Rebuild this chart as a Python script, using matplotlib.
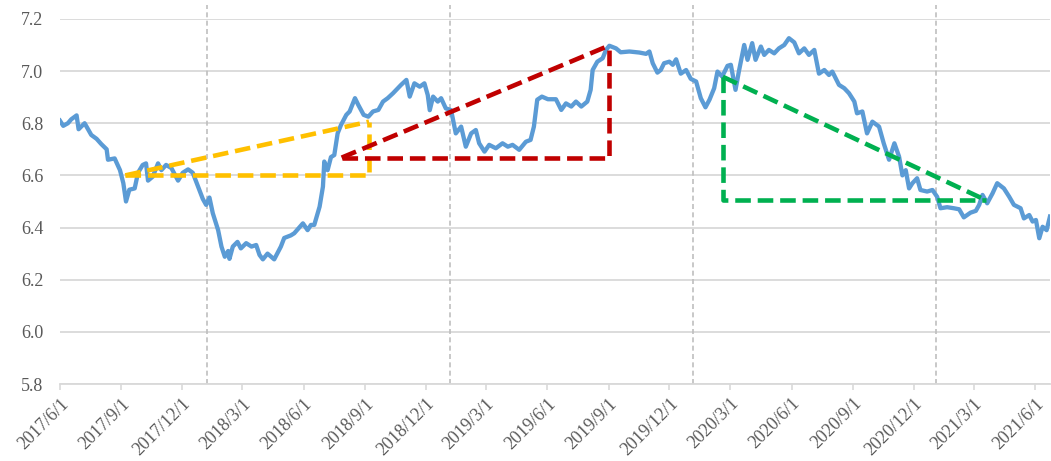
import numpy as np
import pandas as pd
import matplotlib
matplotlib.use("Agg")
import matplotlib.pyplot as plt
import matplotlib.dates as mdates

# USD/CNY
dates = [
    "2017-06-01", "2017-06-06", "2017-06-13", "2017-06-18", "2017-06-26", "2017-06-29",
    "2017-07-08", "2017-07-18", "2017-07-26", "2017-08-02", "2017-08-10", "2017-08-12",
    "2017-08-22", "2017-08-30", "2017-09-04", "2017-09-08", "2017-09-13", "2017-09-21",
    "2017-09-26", "2017-10-03", "2017-10-08", "2017-10-11", "2017-10-18", "2017-10-26",
    "2017-10-31", "2017-11-07", "2017-11-15", "2017-11-25", "2017-12-02", "2017-12-10",
    "2017-12-17", "2017-12-25", "2018-01-01", "2018-01-06", "2018-01-11", "2018-01-16",
    "2018-01-24", "2018-01-29", "2018-02-03", "2018-02-08", "2018-02-10", "2018-02-15",
    "2018-02-22", "2018-02-27", "2018-03-07", "2018-03-15", "2018-03-22", "2018-03-27",
    "2018-04-01", "2018-04-08", "2018-04-18", "2018-04-28", "2018-05-03", "2018-05-13",
    "2018-05-18", "2018-05-31", "2018-06-07", "2018-06-12", "2018-06-17", "2018-06-25",
    "2018-06-30", "2018-07-02", "2018-07-07", "2018-07-12", "2018-07-17", "2018-07-22",
    "2018-07-27", "2018-08-04", "2018-08-09", "2018-08-17", "2018-08-22", "2018-08-30",
    "2018-09-06", "2018-09-13", "2018-09-21", "2018-09-28", "2018-10-05", "2018-10-13",
    "2018-10-20", "2018-10-25", "2018-11-02", "2018-11-07", "2018-11-14", "2018-11-22",
    "2018-11-29", "2018-12-04", "2018-12-07", "2018-12-12", "2018-12-19", "2018-12-24",
    "2018-12-31", "2019-01-08", "2019-01-15", "2019-01-23", "2019-01-30", "2019-02-07",
    "2019-02-14", "2019-02-19", "2019-02-27", "2019-03-06", "2019-03-16", "2019-03-26",
    "2019-04-03", "2019-04-10", "2019-04-20", "2019-04-30", "2019-05-07", "2019-05-12",
    "2019-05-17", "2019-05-24", "2019-06-02", "2019-06-14", "2019-06-22", "2019-06-29",
    "2019-07-07", "2019-07-14", "2019-07-22", "2019-07-31", "2019-08-05", "2019-08-08",
    "2019-08-15", "2019-08-23", "2019-08-28", "2019-09-02", "2019-09-12", "2019-09-19",
    "2019-10-02", "2019-10-17", "2019-10-27", "2019-11-01", "2019-11-06", "2019-11-13",
    "2019-11-18", "2019-11-23", "2019-12-01", "2019-12-06", "2019-12-11", "2019-12-18",
    "2019-12-26", "2020-01-02", "2020-01-10", "2020-01-17", "2020-01-24", "2020-01-30",
    "2020-02-06", "2020-02-11", "2020-02-18", "2020-02-26", "2020-03-02", "2020-03-09",
    "2020-03-14", "2020-03-22", "2020-03-27", "2020-04-03", "2020-04-08", "2020-04-16",
    "2020-04-21", "2020-04-28", "2020-05-06", "2020-05-13", "2020-05-21", "2020-05-28",
    "2020-06-05", "2020-06-12", "2020-06-20", "2020-06-27", "2020-07-05", "2020-07-12",
    "2020-07-20", "2020-07-27", "2020-08-01", "2020-08-11", "2020-08-19", "2020-08-26",
    "2020-09-03", "2020-09-07", "2020-09-15", "2020-09-22", "2020-09-30", "2020-10-10",
    "2020-10-17", "2020-10-25", "2020-11-02", "2020-11-09", "2020-11-14", "2020-11-19",
    "2020-11-24", "2020-11-29", "2020-12-06", "2020-12-11", "2020-12-21", "2020-12-29",
    "2021-01-05", "2021-01-10", "2021-01-20", "2021-01-30", "2021-02-07", "2021-02-14",
    "2021-02-24", "2021-03-04", "2021-03-09", "2021-03-14", "2021-03-21", "2021-03-29",
    "2021-04-05", "2021-04-15", "2021-04-23", "2021-04-30", "2021-05-10", "2021-05-15",
    "2021-05-23", "2021-05-28", "2021-06-02", "2021-06-07", "2021-06-12", "2021-06-18",
    "2021-06-23",
]
rate = [
    6.810, 6.790, 6.800, 6.815, 6.830, 6.777,
    6.800, 6.755, 6.740, 6.720, 6.700, 6.660,
    6.665, 6.620, 6.570, 6.500, 6.545, 6.550,
    6.610, 6.640, 6.646, 6.580, 6.595, 6.646,
    6.620, 6.640, 6.628, 6.580, 6.610, 6.623,
    6.610, 6.557, 6.510, 6.487, 6.515, 6.455,
    6.390, 6.327, 6.288, 6.310, 6.280, 6.327,
    6.345, 6.320, 6.340, 6.327, 6.333, 6.295,
    6.278, 6.300, 6.278, 6.327, 6.360, 6.370,
    6.378, 6.416, 6.390, 6.410, 6.410, 6.480,
    6.557, 6.653, 6.620, 6.670, 6.678, 6.761,
    6.793, 6.832, 6.845, 6.896, 6.870, 6.832,
    6.825, 6.845, 6.851, 6.883, 6.896, 6.915,
    6.934, 6.947, 6.966, 6.902, 6.953, 6.940,
    6.953, 6.908, 6.850, 6.902, 6.883, 6.896,
    6.857, 6.850, 6.761, 6.787, 6.710, 6.761,
    6.774, 6.723, 6.691, 6.717, 6.704, 6.723,
    6.710, 6.717, 6.698, 6.729, 6.736, 6.787,
    6.890, 6.902, 6.892, 6.892, 6.851, 6.876,
    6.864, 6.883, 6.864, 6.883, 6.928, 7.004,
    7.036, 7.049, 7.081, 7.097, 7.087, 7.072,
    7.075, 7.071, 7.066, 7.075, 7.030, 6.994,
    7.004, 7.030, 7.036, 7.024, 7.045, 6.990,
    7.004, 6.970, 6.960, 6.896, 6.861, 6.890,
    6.934, 6.998, 6.979, 7.020, 7.024, 6.928,
    6.998, 7.100, 7.043, 7.107, 7.043, 7.094,
    7.062, 7.081, 7.068, 7.087, 7.100, 7.126,
    7.110, 7.068, 7.087, 7.062, 7.081, 6.990,
    7.004, 6.985, 6.998, 6.947, 6.934, 6.915,
    6.883, 6.838, 6.845, 6.761, 6.806, 6.787,
    6.723, 6.660, 6.723, 6.672, 6.600, 6.620,
    6.550, 6.570, 6.589, 6.544, 6.538, 6.544,
    6.518, 6.474, 6.478, 6.474, 6.470, 6.439,
    6.457, 6.464, 6.487, 6.525, 6.493, 6.531,
    6.570, 6.550, 6.518, 6.487, 6.474, 6.435,
    6.448, 6.423, 6.429, 6.359, 6.403, 6.390,
    6.442,
]

# triangles: (start date, end date) and (low level, high level)
yellow_dates = ["2017-09-07", "2018-09-07"]
yellow_levels = [6.600, 6.806]
red_dates = ["2018-07-28", "2019-09-01"]
red_levels = [6.668, 7.097]
green_dates = ["2020-02-19", "2021-03-19"]
green_levels = [6.505, 6.978]

year_marks = ["2018-01-08", "2019-01-07", "2020-01-05", "2021-01-03"]

tick_dates = ["2017-06-01", "2017-09-01", "2017-12-01", "2018-03-01", "2018-06-01",
              "2018-09-01", "2018-12-01", "2019-03-01", "2019-06-01", "2019-09-01",
              "2019-12-01", "2020-03-01", "2020-06-01", "2020-09-01", "2020-12-01",
              "2021-03-01", "2021-06-01"]
tick_labels = ["2017/6/1", "2017/9/1", "2017/12/1", "2018/3/1", "2018/6/1", "2018/9/1",
               "2018/12/1", "2019/3/1", "2019/6/1", "2019/9/1", "2019/12/1", "2020/3/1",
               "2020/6/1", "2020/9/1", "2020/12/1", "2021/3/1", "2021/6/1"]

plt.rcParams['font.family'] = ['Liberation Serif', 'DejaVu Serif']

fig = plt.figure(figsize=(10.51, 4.61), dpi=100)
ax = fig.add_axes([0.057, 0.167, 0.942, 0.792])

d = pd.to_datetime(dates)
ax.plot(d, rate, color='#5B9BD5', lw=3.1, zorder=3, solid_joinstyle='round')

for m in pd.to_datetime(year_marks):
    ax.axvline(m, ymin=0, ymax=1.038, color='#BFBFBF', lw=1.2,
               dashes=(3, 2), clip_on=False, zorder=2)

dash = dict(lw=3.3, dashes=(3.4, 1.5), dash_capstyle='butt', zorder=4)

# yellow: diagonal rises left to right, vertical at right end
yd = pd.to_datetime(yellow_dates)
ax.plot([yd[0], yd[1], yd[1]], [yellow_levels[0], yellow_levels[0], yellow_levels[1]],
        color='#FFC000', **dash)
ax.plot([yd[0], yd[1]], [yellow_levels[0], yellow_levels[1]], color='#FFC000', **dash)

rd = pd.to_datetime(red_dates)
ax.plot([rd[0], rd[1], rd[1]], [red_levels[0], red_levels[0], red_levels[1]],
        color='#C00000', **dash)
ax.plot([rd[0], rd[1]], [red_levels[0], red_levels[1]], color='#C00000', **dash)

# green: vertical at left end, diagonal falls to the right
gd = pd.to_datetime(green_dates)
ax.plot([gd[0], gd[0], gd[1]], [green_levels[1], green_levels[0], green_levels[0]],
        color='#00B050', **dash)
ax.plot([gd[0], gd[1]], [green_levels[1], green_levels[0]], color='#00B050', **dash)

ax.set_xlim(pd.Timestamp("2017-06-01"), pd.Timestamp("2021-06-23"))
ax.set_ylim(5.8, 7.2)
ax.set_yticks(np.arange(5.8, 7.21, 0.2))
ax.set_yticklabels([f"{v:.1f}" for v in np.arange(5.8, 7.21, 0.2)])
ax.set_xticks(pd.to_datetime(tick_dates))
ax.set_xticklabels(tick_labels, rotation=45, ha='right', rotation_mode='anchor')

ax.grid(axis='y', color='#D9D9D9', lw=1.3)
ax.set_axisbelow(True)
for s in ['top', 'right', 'left']:
    ax.spines[s].set_visible(False)
ax.spines['bottom'].set_color('#D9D9D9')
ax.spines['bottom'].set_linewidth(1.3)

ax.tick_params(axis='y', length=0, pad=12, labelsize=13, labelcolor='#595959')
ax.tick_params(axis='x', length=4, width=1.2, color='#D9D9D9', pad=4,
               labelsize=13, labelcolor='#595959')

fig.savefig("out.png", dpi=100)
